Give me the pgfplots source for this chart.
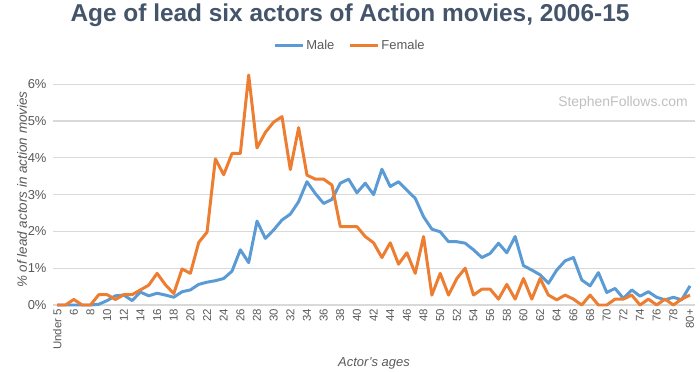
\documentclass[border=0pt]{standalone}
\usepackage{pgfplots}
\pgfplotsset{compat=1.18}
\usepackage{pgfplotstable}
\usepackage{fontspec}
\setmainfont{Liberation Sans}
\definecolor{mblue}{HTML}{5B9BD5}
\definecolor{forange}{HTML}{ED7D31}
\definecolor{titlec}{HTML}{44546A}
\definecolor{gridc}{HTML}{D9D9D9}
\definecolor{labc}{HTML}{595959}
\pgfplotstableread{
i male female
0 0 0
1 0 0
2 0 0.15
3 0 0
4 0 0
5 0.02 0.28
6 0.12 0.28
7 0.25 0.15
8 0.27 0.28
9 0.12 0.28
10 0.35 0.41
11 0.25 0.54
12 0.32 0.86
13 0.27 0.55
14 0.21 0.31
15 0.36 0.98
16 0.41 0.86
17 0.56 1.70
18 0.62 1.98
19 0.66 3.97
20 0.72 3.54
21 0.92 4.12
22 1.50 4.12
23 1.15 6.25
24 2.28 4.27
25 1.81 4.69
26 2.04 4.97
27 2.31 5.12
28 2.47 3.68
29 2.81 4.82
30 3.35 3.53
31 3.03 3.42
32 2.76 3.42
33 2.87 3.26
34 3.31 2.13
35 3.42 2.13
36 3.05 2.13
37 3.31 1.86
38 3.00 1.69
39 3.69 1.29
40 3.22 1.69
41 3.35 1.11
42 3.12 1.42
43 2.90 0.86
44 2.40 1.86
45 2.06 0.27
46 1.99 0.86
47 1.72 0.27
48 1.72 0.72
49 1.68 1.00
50 1.50 0.27
51 1.29 0.43
52 1.40 0.43
53 1.68 0.16
54 1.42 0.56
55 1.86 0.16
56 1.07 0.72
57 0.95 0.16
58 0.82 0.72
59 0.59 0.27
60 0.95 0.14
61 1.20 0.27
62 1.29 0.16
63 0.68 0
64 0.52 0.27
65 0.88 0
66 0.34 0
67 0.45 0.16
68 0.18 0.16
69 0.41 0.27
70 0.24 0
71 0.36 0.16
72 0.21 0
73 0.14 0.16
74 0.21 0
75 0.14 0.16
76 0.52 0.27
}\agedata
\begin{document}
\begin{tikzpicture}
\path[use as bounding box] (0,0) rectangle (700bp,372bp);
\begin{axis}[
  at={(53bp,67bp)}, anchor=south west,
  scale only axis, width=642bp, height=235.5bp,
  xmin=-0.5, xmax=76.6, ymin=0, ymax=6.4,
  axis x line*=bottom, axis y line*=left,
  x axis line style={draw=gridc, line width=1.2pt, -},
  y axis line style={draw=none},
  ytick={0,1,2,3,4,5,6},
  yticklabels={0\%,1\%,2\%,3\%,4\%,5\%,6\%},
  ymajorgrids, grid style={draw=gridc, line width=1.1pt},
  major tick length=0pt,
  xtick={0,2,...,76},
  xticklabels={Under 5,6,8,10,12,14,16,18,20,22,24,26,28,30,32,34,36,38,40,42,44,46,48,50,52,54,56,58,60,62,64,66,68,70,72,74,76,78,80+},
  xticklabel style={rotate=90, anchor=east, font=\fontsize{11.5}{13}\selectfont, text=labc, inner sep=1pt, xshift=-3bp},
  yticklabel style={font=\fontsize{13}{15}\selectfont, text=labc, xshift=-3bp},
  xlabel={\itshape Actor's ages},
  xlabel style={at={(axis description cs:0.5,-0.25)}, anchor=center, font=\fontsize{13}{15}\selectfont, text=labc},
  ylabel={\itshape\% of lead actors in action movies},
  ylabel style={at={(axis description cs:-0.048,0.49)}, anchor=center, font=\fontsize{13.5}{15}\selectfont, text=labc},
  legend columns=2,
  legend style={at={(axis description cs:0.4626,1.10)}, anchor=center, draw=none, fill=none,
    font=\fontsize{13}{15}\selectfont, text=labc,
    /tikz/every even column/.append style={column sep=12bp}},
  legend image code/.code={\draw[#1, line width=3pt] (0bp,0bp) -- (28bp,0bp);},
  clip=false,
]
\addplot[mblue, line width=3pt, line join=round] table[x=i, y=male] {\agedata};
\addlegendentry{Male}
\addplot[forange, line width=3pt, line join=round] table[x=i, y=female] {\agedata};
\addlegendentry{Female}
\end{axis}
\node[font=\bfseries\fontsize{24.5}{28}\selectfont, text=titlec] at (350bp,357bp) {Age of lead six actors of Action movies, 2006-15};
\node[font=\fontsize{14}{16}\selectfont, text=black!25] at (623bp,269bp) {StephenFollows.com};
\end{tikzpicture}
\end{document}
